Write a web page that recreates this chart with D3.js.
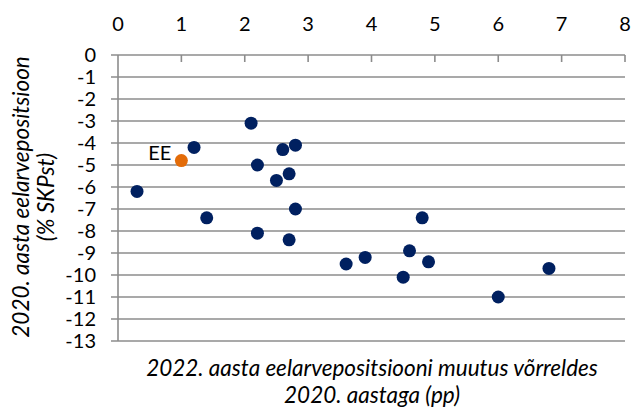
<!DOCTYPE html>
<html lang="et">
<head>
  <meta charset="UTF-8">
  <title>Eelarvepositsioon</title>
  <script src="https://cdn.jsdelivr.net/npm/d3@7"></script>
  <style>
    body { margin: 0; background: #fff; }
    svg text { font-family: Lato, "Open Sans", sans-serif; fill: #000; }
    .grid line { stroke: #8c8c8c; stroke-width: 1.6; }
    .axis-title { font-style: italic; font-size: 22.5px; }
    .tick-label { font-size: 20px; }
  </style>
</head>
<body>
<div class="chart"></div>
<script>
  // muutus 2022 vs 2020 (pp) ja 2020 eelarvepositsioon (% SKPst)
  const xVals = [0.3, 1.2, 1.4, 2.1, 2.2, 2.2, 2.5, 2.6, 2.7, 2.7, 2.8, 2.8, 3.6, 3.9, 4.5, 4.6, 4.8, 4.9, 6.0, 6.8]
  const yVals = [-6.2, -4.2, -7.4, -3.1, -5.0, -8.1, -5.7, -4.3, -5.4, -8.4, -4.1, -7.0, -9.5, -9.2, -10.1, -8.9, -7.4, -9.4, -11.0, -9.7]
  const eePoint = [1.0, -4.8]
  const xTicks = [0, 1, 2, 3, 4, 5, 6, 7, 8]
  const yTicks = [0, -1, -2, -3, -4, -5, -6, -7, -8, -9, -10, -11, -12, -13]

  const width = 632, height = 408
  const x = d3.scaleLinear().domain([0, 8]).range([118, 625])
  const y = d3.scaleLinear().domain([0, -13]).range([55, 341])

  const svg = d3.select('.chart').append('svg')
    .attr('width', width)
    .attr('height', height)

  // horisontaalsed jooned
  const grid = svg.append('g').attr('class', 'grid')
  grid.selectAll('line.h').data(yTicks).enter().append('line')
    .attr('class', 'h')
    .attr('x1', x(0) - 7).attr('x2', x(8))
    .attr('y1', d => y(d)).attr('y2', d => y(d))

  // y telg
  grid.append('line')
    .attr('x1', x(0)).attr('x2', x(0))
    .attr('y1', y(0)).attr('y2', y(-13))

  // x telje kriipsud (ülal)
  grid.selectAll('line.t').data(xTicks.slice(1)).enter().append('line')
    .attr('class', 't')
    .attr('x1', d => x(d)).attr('x2', d => x(d))
    .attr('y1', y(0)).attr('y2', y(0) + 7)

  svg.selectAll('text.xt').data(xTicks).enter().append('text')
    .attr('class', 'tick-label xt')
    .attr('x', d => x(d))
    .attr('y', 31)
    .attr('text-anchor', 'middle')
    .text(d => d)

  svg.selectAll('text.yt').data(yTicks).enter().append('text')
    .attr('class', 'tick-label yt')
    .attr('x', 96)
    .attr('y', d => y(d) + 7)
    .attr('text-anchor', 'end')
    .text(d => d)

  // punktid
  svg.selectAll('circle.p').data(xVals).enter().append('circle')
    .attr('class', 'p')
    .attr('cx', d => x(d))
    .attr('cy', (d, i) => y(yVals[i]))
    .attr('r', 6.5)
    .attr('fill', '#002060')

  svg.append('circle')
    .attr('cx', x(eePoint[0]))
    .attr('cy', y(eePoint[1]))
    .attr('r', 6.5)
    .attr('fill', '#e36c09')

  svg.append('text')
    .attr('class', 'tick-label')
    .attr('x', x(eePoint[0]) - 10)
    .attr('y', y(eePoint[1]) - 1)
    .attr('text-anchor', 'end')
    .text('EE')

  // telgede pealkirjad
  const xt = svg.append('text')
    .attr('class', 'axis-title')
    .attr('text-anchor', 'middle')
  xt.append('tspan').attr('x', 372).attr('y', 376).text('2022. aasta eelarvepositsiooni muutus võrreldes')
  xt.append('tspan').attr('x', 372).attr('y', 403).text('2020. aastaga (pp)')

  const yt = svg.append('text')
    .attr('class', 'axis-title')
    .attr('text-anchor', 'middle')
    .attr('transform', 'translate(0,197) rotate(-90)')
  yt.append('tspan').attr('x', 0).attr('y', 29).text('2020. aasta eelarvepositsioon')
  yt.append('tspan').attr('x', 0).attr('y', 54).text('(% SKPst)')
</script>
</body>
</html>
